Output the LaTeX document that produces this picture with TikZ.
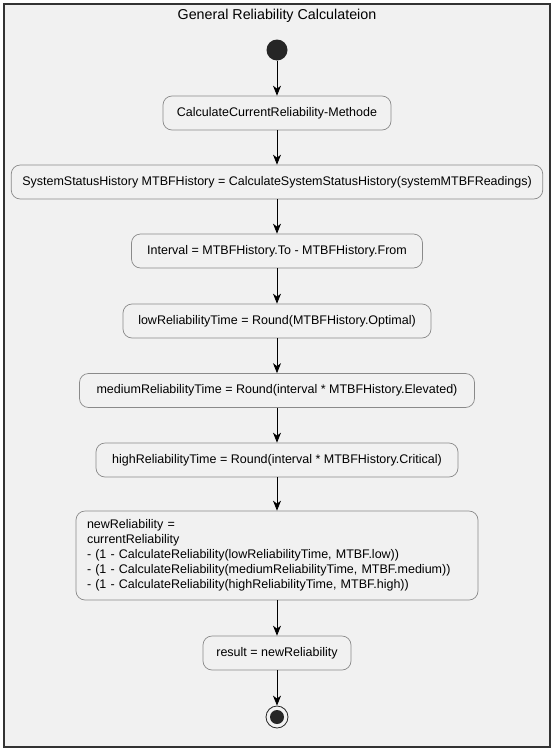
\documentclass[tikz,border=0pt]{standalone}
\usepackage{fontspec}
\setmainfont{Liberation Sans}
\usetikzlibrary{arrows.meta}
\definecolor{panelgray}{HTML}{F1F1F1}
\definecolor{boxline}{HTML}{8A8A8A}
\tikzset{
  action/.style={draw=boxline, fill=panelgray, rounded corners=9pt, line width=0.7pt,
    minimum height=34pt, inner xsep=11pt, font=\fontsize{12.5}{15}\selectfont},
  flow/.style={-{Stealth[length=10pt,width=8pt,inset=3pt]}, line width=0.8pt},
}
\begin{document}
\begin{tikzpicture}[x=1pt,y=-1pt]
  \useasboundingbox (0,0) rectangle (554,750);
  % frame
  \draw[line width=1.5pt, draw=black!80, fill=panelgray] (4,4) rectangle (550,747);
  \node[font=\fontsize{14.3}{16}\selectfont] (title) at (277,16) {General Reliability Calculateion};

  \node[circle, fill=black!85, minimum size=21pt, inner sep=0pt] (start) at (277,50) {};
  \node[action, minimum width=228pt] (method) at (277,113) {CalculateCurrentReliability-Methode};
  \node[action, minimum width=528pt] (history) at (277,182) {SystemStatusHistory MTBFHistory = CalculateSystemStatusHistory(systemMTBFReadings)};
  \node[action, minimum width=291pt] (interval) at (277,251) {Interval = MTBFHistory.To - MTBFHistory.From};
  \node[action, minimum width=308pt] (lowtime) at (277,321) {lowReliabilityTime = Round(MTBFHistory.Optimal)};
  \node[action, minimum width=395pt] (mediumtime) at (277,390.5) {mediumReliabilityTime = Round(interval * MTBFHistory.Elevated)};
  \node[action, minimum width=362pt] (hightime) at (277,460) {highReliabilityTime = Round(interval * MTBFHistory.Critical)};
  \node[action, align=left, text width=380pt, minimum height=89pt] (newrel) at (277,555.5) {newReliability =\\
    currentReliability\\
    - (1 - CalculateReliability(lowReliabilityTime, MTBF.low))\\
    - (1 - CalculateReliability(mediumReliabilityTime, MTBF.medium))\\
    - (1 - CalculateReliability(highReliabilityTime, MTBF.high))};
  \node[action, minimum width=148pt] (result) at (277,653) {result = newReliability};
  \node[circle, draw=black!85, line width=0.8pt, fill=panelgray, minimum size=22pt, inner sep=0pt] (stop) at (277,717) {};
  \fill[black!85] (stop) circle (7pt);

  \foreach \a/\b in {start/method, method/history, history/interval, interval/lowtime,
    lowtime/mediumtime, mediumtime/hightime, hightime/newrel, newrel/result, result/stop}
    \draw[flow] (\a) -- (\b);
\end{tikzpicture}
\end{document}
